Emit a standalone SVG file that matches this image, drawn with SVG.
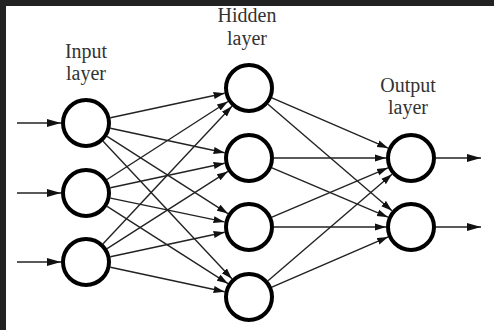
<svg xmlns="http://www.w3.org/2000/svg" width="494" height="330" viewBox="0 0 494 330">
<defs>
<style>
.node{fill:#fff;stroke:#000;stroke-width:4}
.edge{stroke:#222;stroke-width:1.4;fill:none;marker-end:url(#ah)}
.io{stroke:#222;stroke-width:1.6;fill:none;marker-end:url(#ahb)}
.lbl{font-family:"Liberation Serif","Times New Roman",serif;font-size:20px;fill:#333;text-anchor:middle}
</style>
<marker id="ah" markerUnits="userSpaceOnUse" markerWidth="11" markerHeight="8" refX="11" refY="4" orient="auto"><path d="M0,0.5 L11,4 L0,7.5 z" fill="#111"/></marker>
<marker id="ahb" markerUnits="userSpaceOnUse" markerWidth="14" markerHeight="9" refX="14" refY="4.5" orient="auto"><path d="M0,0.5 L14,4.5 L0,8.5 z" fill="#111"/></marker>
</defs>
<rect x="0" y="0" width="494" height="330" fill="#222"/>
<rect x="6" y="6" width="488" height="324" fill="#fff"/>
<g id="labels">
<text class="lbl" x="86" y="58">Input</text>
<text class="lbl" x="86" y="80">layer</text>
<text class="lbl" x="247" y="22">Hidden</text>
<text class="lbl" x="247" y="45">layer</text>
<text class="lbl" x="408" y="92">Output</text>
<text class="lbl" x="408" y="114">layer</text>
</g>
<g id="connectors">
<line class="io" x1="17" y1="123" x2="61" y2="123"/>
<line class="io" x1="17" y1="193" x2="61" y2="193"/>
<line class="io" x1="17" y1="262" x2="61" y2="262"/>
<line class="edge" x1="110.4" y1="117.8" x2="224.6" y2="93.2"/>
<line class="edge" x1="110.4" y1="128.2" x2="224.6" y2="152.8"/>
<line class="edge" x1="107.1" y1="136.4" x2="227.9" y2="213.6"/>
<line class="edge" x1="103.1" y1="141.2" x2="231.9" y2="278.8"/>
<line class="edge" x1="107.0" y1="179.5" x2="228.0" y2="101.5"/>
<line class="edge" x1="110.4" y1="187.8" x2="224.6" y2="163.2"/>
<line class="edge" x1="110.5" y1="198.1" x2="224.5" y2="221.9"/>
<line class="edge" x1="107.1" y1="206.4" x2="227.9" y2="283.6"/>
<line class="edge" x1="103.1" y1="243.8" x2="231.9" y2="106.2"/>
<line class="edge" x1="107.1" y1="248.6" x2="227.9" y2="171.4"/>
<line class="edge" x1="110.4" y1="256.8" x2="224.6" y2="232.2"/>
<line class="edge" x1="110.4" y1="267.2" x2="224.6" y2="291.8"/>
<line class="edge" x1="271.9" y1="97.9" x2="388.1" y2="148.1"/>
<line class="edge" x1="268.0" y1="104.3" x2="392.0" y2="210.7"/>
<line class="edge" x1="274" y1="158" x2="386" y2="158"/>
<line class="edge" x1="272.0" y1="167.8" x2="388.0" y2="217.2"/>
<line class="edge" x1="272.0" y1="217.2" x2="388.0" y2="167.8"/>
<line class="edge" x1="274" y1="227" x2="386" y2="227"/>
<line class="edge" x1="268.0" y1="280.7" x2="392.0" y2="174.3"/>
<line class="edge" x1="271.9" y1="287.1" x2="388.1" y2="236.9"/>
<line class="io" x1="436" y1="158" x2="481" y2="158"/>
<line class="io" x1="436" y1="227" x2="481" y2="227"/>
</g>
<g id="input1"><circle class="node" cx="86" cy="123" r="23"/></g>
<g id="input2"><circle class="node" cx="86" cy="193" r="23"/></g>
<g id="input3"><circle class="node" cx="86" cy="262" r="23"/></g>
<g id="hidden1"><circle class="node" cx="249" cy="88" r="23"/></g>
<g id="hidden2"><circle class="node" cx="249" cy="158" r="23"/></g>
<g id="hidden3"><circle class="node" cx="249" cy="227" r="23"/></g>
<g id="hidden4"><circle class="node" cx="249" cy="297" r="23"/></g>
<g id="output1"><circle class="node" cx="411" cy="158" r="23"/></g>
<g id="output2"><circle class="node" cx="411" cy="227" r="23"/></g>
</svg>
